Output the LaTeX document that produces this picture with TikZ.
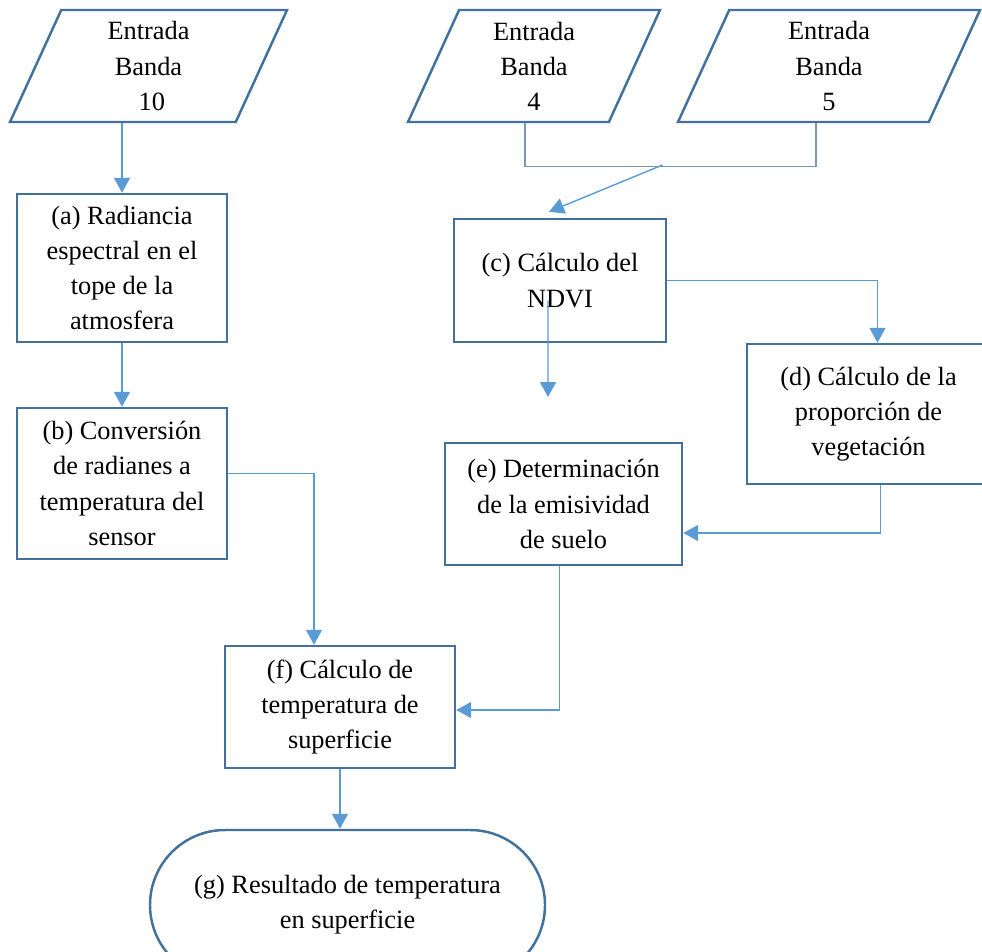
\documentclass[tikz,border=0pt]{standalone}
\usepackage{fontspec}
\setmainfont{Liberation Serif}
\usepackage{xcolor}
\definecolor{boxblue}{RGB}{65,113,156}
\definecolor{flowblue}{RGB}{91,155,213}
\definecolor{joingray}{RGB}{125,152,180}
\usetikzlibrary{positioning,arrows.meta,shapes.geometric}
\tikzset{
  proc/.style    ={rectangle,draw=boxblue,line width=1.4pt,fill=white,
                   align=center,font=\fontsize{15}{20}\selectfont},
  inband/.style  ={trapezium,trapezium left angle=63,trapezium right angle=117,
                   trapezium stretches body,draw=boxblue,line width=1.4pt,fill=white,
                   align=center,minimum height=22.4mm,font=\fontsize{15}{20}\selectfont},
  result/.style  ={rectangle,rounded corners=15mm,draw=boxblue,line width=1.4pt,fill=white,
                   align=center,minimum height=30mm,font=\fontsize{15}{20}\selectfont},
  flow/.style    ={-{Triangle[length=3mm,width=3.2mm]},line width=0.8pt,draw=flowblue},
  joinline/.style={line width=0.6pt,draw=joingray},
}

\begin{document}
\begin{tikzpicture}
  \useasboundingbox (0,0) rectangle (19.64,-19.02);
  \clip (0,0) rectangle (19.64,-19.02);
  % entradas
  \node[inband,minimum width=55.4mm] (in10) at (2.97,-1.32) {Entrada\\Banda\\\ 10};
  \node[inband,minimum width=50.4mm] (in4) at (10.68,-1.32) {Entrada\\Banda\\4};
  \node[inband,minimum width=60.4mm] (in5) at (16.58,-1.32) {Entrada\\Banda\\5};
  % procesos
  \node[proc,minimum width=42mm,minimum height=29.6mm] (a) at (2.44,-5.36) {(a) Radiancia\\espectral en el\\tope de la\\atmosfera};
  \node[proc,minimum width=42mm,minimum height=30.2mm] (b) at (2.44,-9.67) {(b) Conversión\\de radianes a\\temperatura del\\sensor};
  \node[proc,minimum width=42.4mm,minimum height=24.6mm] (c) at (11.2,-5.61) {(c) Cálculo del\\NDVI};
  \node[proc,minimum width=48.6mm,minimum height=28mm] (d) at (17.37,-8.28) {(d) Cálculo de la\\proporción de\\vegetación};
  \node[proc,minimum width=47.4mm,minimum height=24.4mm] (e) at (11.27,-10.08) {(e) Determinación\\de la emisividad\\de suelo};
  \node[proc,minimum width=46mm,minimum height=24.4mm] (f) at (6.8,-14.14) {(f) Cálculo de\\temperatura de\\superficie};
  \node[result,minimum width=79mm] (g) at (6.95,-18.1) {(g) Resultado de temperatura\\en superficie};
  \coordinate (j45) at (13.25,-3.3);
  \coordinate (ctip) at (10.96,-7.94);
  % conectores
  \draw[flow] (a.north |- in10.south) -- (a.north);
  \draw[flow] (a) -- (b);
  \draw[joinline] ([xshift=-0.18cm]in4.south) -- ++(0,-0.86) -| ([xshift=-0.26cm]in5.south);
  \draw[flow] (j45) -- ([xshift=-0.22cm,yshift=0.12cm]c.north);
  \draw[flow] (c.east) -| ([xshift=0.18cm]d.north);
  \draw[flow] ([xshift=-0.24cm,yshift=-0.4cm]c.center) -- (ctip);
  \draw[flow] ([xshift=0.24cm]d.south) |- ([yshift=-0.58cm]e.east);
  \draw[flow] ([yshift=0.2cm]b.east) -| ([xshift=-0.52cm]f.north);
  \draw[flow] ([xshift=-0.08cm]e.south) |- ([yshift=-0.06cm]f.east);
  \draw[flow] (f.south) -- (f.south |- g.north);
\end{tikzpicture}
\end{document}
